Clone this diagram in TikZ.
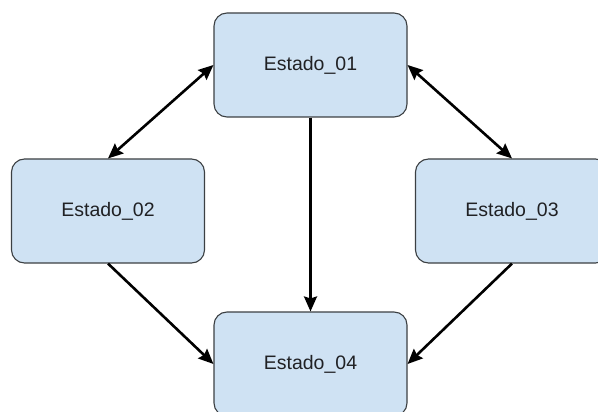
\documentclass[tikz,border=0pt]{standalone}
\usepackage{fontspec}
\setmainfont{Liberation Sans}
\usetikzlibrary{arrows.meta}
\definecolor{boxfill}{HTML}{CFE2F3}
\definecolor{boxline}{HTML}{3C4043}
\definecolor{txt}{HTML}{202124}
\tikzset{
  statebox/.style={draw=boxline, line width=1.1pt, fill=boxfill, rounded corners=13pt,
    minimum width=193pt, minimum height=104pt, inner sep=0pt,
    font=\fontsize{19.5pt}{23pt}\selectfont, text=txt},
  conn/.style={line width=2.6pt, black,
    arrows={-Stealth[length=15pt,width=13pt,inset=2pt]}},
  biconn/.style={line width=2.6pt, black,
    arrows={Stealth[length=15pt,width=13pt,inset=2pt]-Stealth[length=15pt,width=13pt,inset=2pt]}}
}
\begin{document}
\begin{tikzpicture}[x=1pt,y=-1pt]
\useasboundingbox (0,0) rectangle (598,412);
\node[statebox] (e1) at (310.5,65) {Estado\_01};
\node[statebox] (e2) at (108,211) {Estado\_02};
\node[statebox] (e3) at (512,211) {Estado\_03};
\node[statebox] (e4) at (310.5,364) {Estado\_04};
\draw[biconn] (e1.west) -- (e2.north);
\draw[biconn] (e1.east) -- (e3.north);
\draw[conn] (e1.south) -- (e4.north);
\draw[conn] (e2.south) -- (e4.west);
\draw[conn] (e3.south) -- (e4.east);
\end{tikzpicture}
\end{document}
